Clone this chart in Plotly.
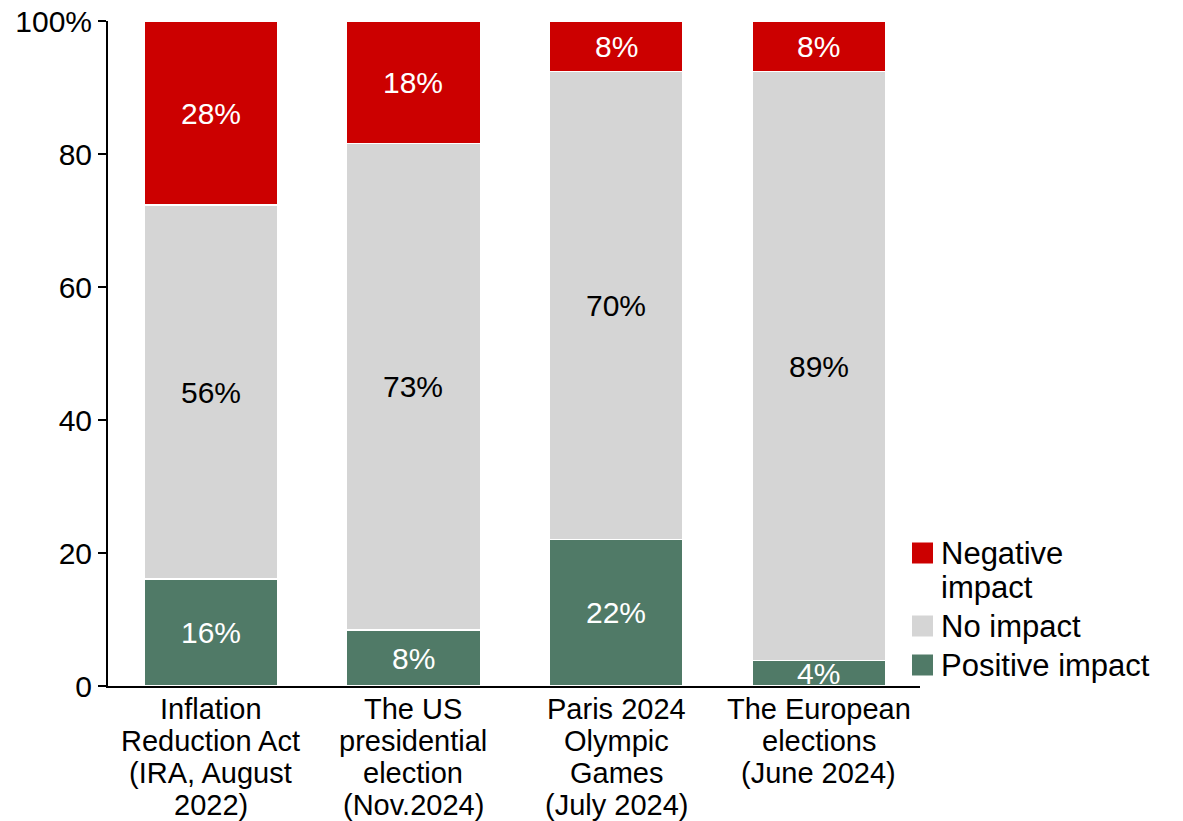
import plotly.graph_objects as go

# Survey: perceived impact of major events, share of respondents (%)
categories = [
    "Inflation<br>Reduction Act<br>(IRA, August<br>2022)",
    "The US<br>presidential<br>election<br>(Nov.2024)",
    "Paris 2024<br>Olympic<br>Games<br>(July 2024)",
    "The European<br>elections<br>(June 2024)",
]
positive_impact = [16.1, 8.4, 22.0, 3.8]
no_impact = [56.2, 73.2, 70.4, 88.6]
negative_impact = [27.7, 18.4, 7.6, 7.6]

y_tickvals = [0, 20, 40, 60, 80, 100]
y_ticktext = ["0", "20", "40", "60", "80", "100%"]

FONT = "Liberation Sans, Arial, sans-serif"
FS = 30
FS_CAT = 29
FS_LEG = 31
GREEN = "#507A67"
GREY = "#D5D5D5"
RED = "#CC0000"

series = [
    ("Positive impact", positive_impact, GREEN, "white"),
    ("No impact", no_impact, GREY, "black"),
    ("Negative impact", negative_impact, RED, "white"),
]

W, H = 1183, 821
ml, mr, mt, mb = 108, 263, 21, 135
pw, ph = W - ml - mr, H - mt - mb

def px_to_paper_x(px):
    return (px - ml) / pw

def px_to_paper_y(py):
    return (H - mb - py) / ph

x_pos = list(range(len(categories)))
fig = go.Figure()
annotations = []
base = [0.0] * len(categories)
for name, vals, color, tcolor in series:
    fig.add_trace(go.Bar(
        x=x_pos,
        y=vals,
        name=name,
        marker=dict(color=color, line=dict(color="white", width=1.5)),
        showlegend=False,
        hoverinfo="name+y",
    ))
    # value label centred on each segment
    for i, v in enumerate(vals):
        annotations.append(dict(
            x=i, y=base[i] + v / 2, xref="x", yref="y",
            text=f"{v:.0f}%", showarrow=False,
            xanchor="center", yanchor="middle",
            font=dict(family=FONT, size=FS, color=tcolor),
        ))
        base[i] += v

# Category labels, one line per annotation for tighter leading
LINE = 32
for i, cat in enumerate(categories):
    for j, line in enumerate(cat.split("<br>")):
        annotations.append(dict(
            x=i, y=0, xref="x", yref="paper",
            text=line, showarrow=False,
            xanchor="center", yanchor="middle",
            yshift=-(23 + LINE * j),
            font=dict(family=FONT, size=FS_CAT, color="black"),
        ))

# Legend: swatches + labels in paper space
legend_items = [
    (["Negative", "impact"], RED, 553),
    (["No impact"], GREY, 626),
    (["Positive impact"], GREEN, 665),
]
shapes = []
for lines, color, yc in legend_items:
    shapes.append(dict(
        type="rect", xref="paper", yref="paper",
        x0=px_to_paper_x(912), x1=px_to_paper_x(933),
        y0=px_to_paper_y(yc + 10.5), y1=px_to_paper_y(yc - 10.5),
        fillcolor=color, line=dict(width=0),
    ))
    for j, line in enumerate(lines):
        annotations.append(dict(
            xref="paper", yref="paper",
            x=px_to_paper_x(939), y=px_to_paper_y(yc + 34 * j),
            xanchor="left", yanchor="middle",
            text=line, showarrow=False, align="left",
            font=dict(family=FONT, size=FS_LEG, color="black"),
        ))

fig.update_layout(
    barmode="stack",
    bargap=0.34,
    width=W, height=H,
    margin=dict(l=ml, r=mr, t=mt, b=mb, pad=0),
    plot_bgcolor="white",
    paper_bgcolor="white",
    font=dict(family=FONT, size=FS, color="black"),
    shapes=shapes,
    annotations=annotations,
    xaxis=dict(
        tickmode="array",
        tickvals=x_pos,
        ticktext=[""] * len(categories),
        range=[-0.507, 3.5],
        showline=True, linecolor="black", linewidth=2,
        ticks="", showgrid=False, zeroline=False,
        automargin=False,
    ),
    yaxis=dict(
        range=[0, 100],
        tickmode="array",
        tickvals=y_tickvals,
        ticktext=y_ticktext,
        showline=True, linecolor="black", linewidth=2,
        ticks="outside", ticklen=8, tickwidth=2, tickcolor="black",
        showgrid=False, zeroline=False,
        tickfont=dict(family=FONT, size=FS, color="black"),
        automargin=False,
    ),
)

fig.write_html("out.html")
